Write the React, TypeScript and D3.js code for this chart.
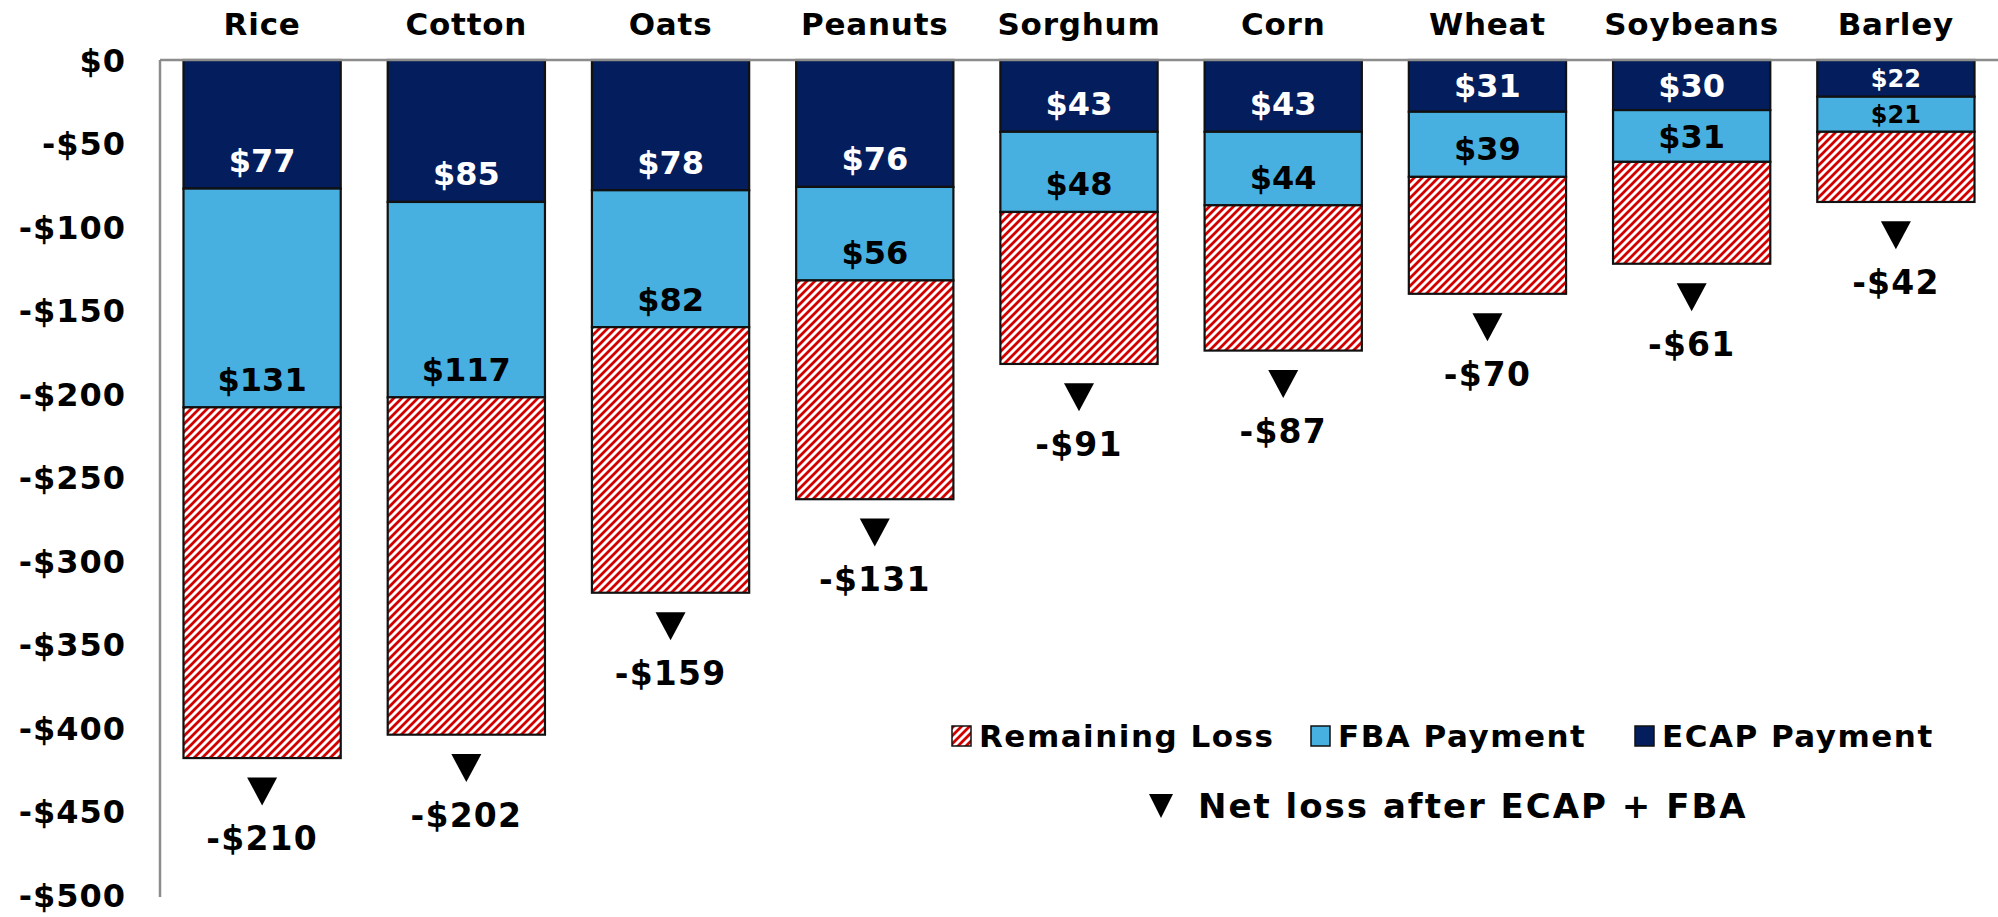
import React, { useRef, useEffect } from 'react';
import * as d3 from 'd3';

const categories = ['Rice', 'Cotton', 'Oats', 'Peanuts', 'Sorghum', 'Corn', 'Wheat', 'Soybeans', 'Barley'];
const ecapPayment = [77, 85, 78, 76, 43, 43, 31, 30, 22];
const fbaPayment = [131, 117, 82, 56, 48, 44, 39, 31, 21];
const remainingLoss = [210, 202, 159, 131, 91, 87, 70, 61, 42];
const yTickValues = [0, -50, -100, -150, -200, -250, -300, -350, -400, -450, -500];

const seriesKeys = ['ecap', 'fba', 'remaining'];
const legendItems = [
  { key: 'remaining', label: 'Remaining Loss' },
  { key: 'fba', label: 'FBA Payment' },
  { key: 'ecap', label: 'ECAP Payment' },
];

const NAVY = '#031d5d';
const LIGHT = '#47b0e0';
const RED = '#d40000';
const FONT = '"DejaVu Sans", Verdana, sans-serif';

const App = () => {
  const svgRef = useRef<SVGSVGElement | null>(null);
  const width = 1998;
  const height = 917;

  useEffect(() => {
    if (!svgRef.current) return;
    const svg = d3.select(svgRef.current);
    svg.selectAll('*').remove();

    const rows = categories.map((c, i) => ({
      category: c,
      ecap: -ecapPayment[i],
      fba: -fbaPayment[i],
      remaining: -remainingLoss[i],
    }));

    const x = d3.scaleBand().domain(categories).range([160, 1998]).paddingInner(0.23).paddingOuter(0.115);
    const y = d3.scaleLinear().domain([-500, 0]).range([895, 60]);

    // hatch pattern
    const defs = svg.append('defs');
    const pat = defs.append('pattern')
      .attr('id', 'hatch')
      .attr('patternUnits', 'userSpaceOnUse')
      .attr('width', 8)
      .attr('height', 8);
    pat.append('rect').attr('width', 8).attr('height', 8).attr('fill', '#fff');
    pat.append('path')
      .attr('d', 'M-2,2 L2,-2 M0,8 L8,0 M6,10 L10,6')
      .attr('stroke', RED)
      .attr('stroke-width', 2.8);

    const fills: Record<string, string> = { ecap: NAVY, fba: LIGHT, remaining: 'url(#hatch)' };

    // axis line
    svg.append('line')
      .attr('x1', 160).attr('x2', 160)
      .attr('y1', y(0)).attr('y2', y(-500) + 2)
      .attr('stroke', '#8c8c8c').attr('stroke-width', 2.5);

    // y tick labels
    svg.append('g')
      .selectAll('text')
      .data(yTickValues)
      .enter()
      .append('text')
      .attr('x', 126)
      .attr('y', d => y(d))
      .attr('dy', '0.36em')
      .attr('text-anchor', 'end')
      .attr('font-family', FONT)
      .attr('font-weight', 'bold')
      .attr('font-size', 32)
      .attr('letter-spacing', 1)
      .text(d => (d < 0 ? '-$' : '$') + Math.abs(d));

    // category labels
    svg.append('g')
      .selectAll('text')
      .data(categories)
      .enter()
      .append('text')
      .attr('x', d => (x(d) as number) + x.bandwidth() / 2)
      .attr('y', 35)
      .attr('text-anchor', 'middle')
      .attr('font-family', FONT)
      .attr('font-weight', 'bold')
      .attr('font-size', 31)
      .attr('letter-spacing', 0.8)
      .text(d => d);

    const stack = d3.stack<any>().keys(seriesKeys).offset(d3.stackOffsetDiverging);
    const series = stack(rows);

    const groups = svg.append('g')
      .selectAll('g')
      .data(series)
      .enter()
      .append('g')
      .attr('fill', d => fills[d.key]);

    groups.selectAll('rect')
      .data(d => d.map(s => ({ s, key: d.key })))
      .enter()
      .append('rect')
      .attr('x', d => x(d.s.data.category) as number)
      .attr('width', x.bandwidth())
      .attr('y', d => y(d.s[1]))
      .attr('height', d => y(d.s[0]) - y(d.s[1]))
      .attr('stroke', '#111')
      .attr('stroke-width', 2.2);

    // zero line on top
    svg.append('line')
      .attr('x1', 160).attr('x2', 1998)
      .attr('y1', y(0)).attr('y2', y(0))
      .attr('stroke', '#8c8c8c').attr('stroke-width', 2.5);

    // value labels inside ECAP and FBA segments
    series.filter(s => s.key !== 'remaining').forEach(s => {
      svg.append('g')
        .selectAll('text')
        .data(s)
        .enter()
        .append('text')
        .each(function (d: any) {
          const top = y(d[1]);
          const bottom = y(d[0]);
          const h = bottom - top;
          const cy = bottom - Math.min(28, h / 2);
          const fs = h < 45 ? 24 : 32;
          d3.select(this)
            .attr('x', (x(d.data.category) as number) + x.bandwidth() / 2)
            .attr('y', cy)
            .attr('dy', '0.36em')
            .attr('font-size', fs)
            .text('$' + Math.abs(d[1] - d[0]));
        })
        .attr('text-anchor', 'middle')
        .attr('font-family', FONT)
        .attr('font-weight', 'bold')
        .attr('fill', s.key === 'ecap' ? '#fff' : '#000');
    });

    // net loss markers
    const totals = series[series.length - 1];
    const markers = svg.append('g')
      .selectAll('g')
      .data(totals)
      .enter()
      .append('g')
      .attr('transform', (d: any) => `translate(${(x(d.data.category) as number) + x.bandwidth() / 2},${y(d[0] - 20)})`);

    markers.append('path')
      .attr('d', 'M-15,-14 L15,-14 L0,14 Z')
      .attr('fill', '#000');

    markers.append('text')
      .attr('y', 47)
      .attr('dy', '0.36em')
      .attr('text-anchor', 'middle')
      .attr('font-family', FONT)
      .attr('font-weight', 'bold')
      .attr('font-size', 33)
      .attr('letter-spacing', 1.2)
      .text((d: any) => '-$' + Math.abs(d[1] - d[0]));

    // legend
    const legendX = [952, 1311, 1635];
    const legend = svg.append('g');
    legendItems.forEach((item, i) => {
      const g = legend.append('g').attr('transform', `translate(${legendX[i]},736)`);
      g.append('rect')
        .attr('x', 0).attr('y', -10)
        .attr('width', 19).attr('height', 20)
        .attr('fill', fills[item.key])
        .attr('stroke', '#111')
        .attr('stroke-width', 1.5);
      g.append('text')
        .attr('x', 27)
        .attr('dy', '0.36em')
        .attr('font-family', FONT)
        .attr('font-weight', 'bold')
        .attr('font-size', 31)
        .attr('letter-spacing', 1.5)
        .text(item.label);
    });

    const net = legend.append('g').attr('transform', 'translate(1161,806)');
    net.append('path').attr('d', 'M-12,-12 L12,-12 L0,12 Z').attr('fill', '#000');
    net.append('text')
      .attr('x', 37)
      .attr('dy', '0.36em')
      .attr('font-family', FONT)
      .attr('font-weight', 'bold')
      .attr('font-size', 34)
      .attr('letter-spacing', 2)
      .text('Net loss after ECAP + FBA');
  }, []);

  return (
    <div style={{ position: 'absolute', left: 0, top: 0, background: '#fff' }}>
      <svg ref={svgRef} width={width} height={height} style={{ display: 'block' }}></svg>
    </div>
  );
};

export default App;
